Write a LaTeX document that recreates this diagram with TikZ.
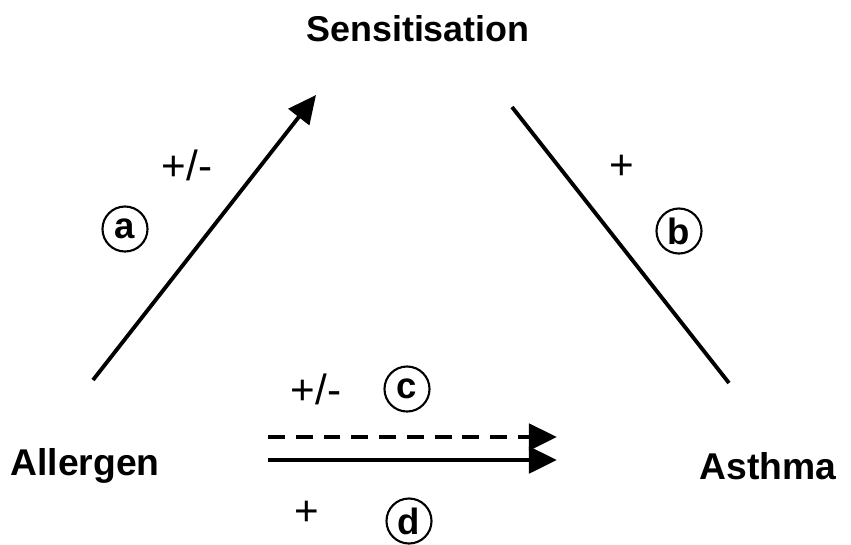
\documentclass[tikz,border=0pt]{standalone}
\usepackage{fontspec}
\setmainfont{Liberation Sans}
\usetikzlibrary{arrows.meta, positioning, calc}

\begin{document}
\begin{tikzpicture}[
        x=0.01cm, y=-0.01cm,
        factor/.style={
            inner sep=0pt,
            font=\fontsize{10.6}{12}\selectfont\bfseries
        },
        signo/.style={
            inner sep=0pt,
            font=\fontsize{12}{14}\selectfont
        },
        etiqueta/.style={
            circle,
            draw=black,
            line width=0.6pt,
            minimum size=4.5mm,
            inner sep=0pt,
            font=\fontsize{10.4}{12}\selectfont\bfseries
        },
        enlace/.style={
            line width=1.1pt,
            draw=black
        },
        punta/.style={
            -{Triangle[length=2.8mm, width=2.6mm]}
        }
    ]
        \useasboundingbox (0,0) rectangle (851,544);

        \node[factor, font=\fontsize{10.2}{12}\selectfont\bfseries] (sens) at (418,29) {Sensitisation};
        \node[factor] (alerg) at (85,466) {Allergen};
        \node[factor] (asma) at (768,466) {Asthma};

        % extremos de los enlaces
        \coordinate (a-ini) at (93,380);
        \coordinate (a-fin) at (316,95);
        \coordinate (b-ini) at (512,107);
        \coordinate (b-fin) at (729,383);
        \coordinate (c-ini) at (268,437);
        \coordinate (c-fin) at (557,437);
        \coordinate (d-ini) at (268,460);
        \coordinate (d-fin) at (557,460);

        \draw[enlace, punta] (a-ini) -- (a-fin);
        \draw[enlace] (b-ini) -- (b-fin);
        \draw[enlace, punta, line width=1.4pt, dash pattern=on 4.8pt off 3.1pt] (c-ini) -- (c-fin);
        \draw[enlace, punta, line width=1.4pt] (d-ini) -- (d-fin);

        \node[signo] (sa) at (187,165) {+/-};
        \node[etiqueta] (ea) at (125,229) {a};
        \node[signo] (sb) at (622,167) {+};
        \node[etiqueta] (eb) at (679,231) {b};
        \node[signo] (sc) at (316,389) {+/-};
        \node[etiqueta] (ec) at (407,389) {c};
        \node[signo] (sd) at (307,513) {+};
        \node[etiqueta] (ed) at (409,521) {d};
    \end{tikzpicture}
\end{document}
